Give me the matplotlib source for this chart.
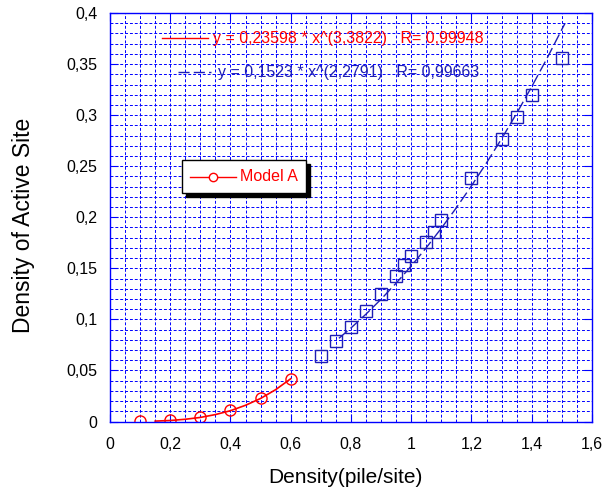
import matplotlib.pyplot as plt
from matplotlib.ticker import MultipleLocator, FuncFormatter
from matplotlib.patches import Rectangle
from matplotlib.lines import Line2D

plt.rcParams["font.family"] = ["Liberation Sans", "DejaVu Sans"]

# Model A points (red circles)
model_a_x = [0.1, 0.2, 0.3, 0.4, 0.5, 0.6]
model_a_y = [0.0001, 0.001, 0.004, 0.0108, 0.0235, 0.0415]

# fit curve for model A
fit_a_x = [0.15, 0.2, 0.25, 0.3, 0.35, 0.4, 0.45, 0.5, 0.55, 0.6]
fit_a_y = [0.0004, 0.0010, 0.0022, 0.0040, 0.0068, 0.0106, 0.0159, 0.0226, 0.0312, 0.0419]

# second series (blue squares)
model_b_x = [0.7, 0.75, 0.8, 0.85, 0.9, 0.95, 0.975, 1.0, 1.05, 1.075, 1.1,
             1.2, 1.3, 1.35, 1.4, 1.5]
model_b_y = [0.064, 0.079, 0.093, 0.108, 0.125, 0.142, 0.153, 0.162, 0.176, 0.186,
             0.197, 0.238, 0.277, 0.298, 0.320, 0.356]

# fit curve for the blue series
fit_b_x = [0.76, 0.8, 0.85, 0.9, 0.95, 1.0, 1.05, 1.1, 1.15, 1.2, 1.25, 1.3,
           1.35, 1.4, 1.45, 1.5, 1.51]
fit_b_y = [0.0815, 0.0916, 0.1052, 0.1198, 0.1355, 0.1523, 0.1702, 0.1893, 0.2094,
           0.2308, 0.2533, 0.2769, 0.3018, 0.3279, 0.3552, 0.3840, 0.3896]

eq_a = "y = 0,23598 * x^(3,3822)   R= 0,99948"
eq_b = "y = 0,1523 * x^(2,2791)   R= 0,99663"

red = "#ff0000"
blue = "#0000ff"
dark_blue = "#1e1eb4"

fig = plt.figure(figsize=(6.12, 4.93), dpi=100)
ax = fig.add_axes([0.1797, 0.145, 0.7876, 0.8286])

ax.set_xlim(0, 1.6)
ax.set_ylim(0, 0.4)
ax.xaxis.set_major_locator(MultipleLocator(0.2))
ax.xaxis.set_minor_locator(MultipleLocator(0.05))
ax.yaxis.set_major_locator(MultipleLocator(0.05))
ax.yaxis.set_minor_locator(MultipleLocator(0.01))

fmt = FuncFormatter(lambda v, p: ("%g" % round(v, 3)).replace(".", ","))
ax.xaxis.set_major_formatter(fmt)
ax.yaxis.set_major_formatter(fmt)

ax.grid(True, which="both", color=blue, linestyle=(0, (3, 2)), linewidth=0.7)
ax.set_axisbelow(True)
for s in ax.spines.values():
    s.set_color(blue)
    s.set_linewidth(1.0)
ax.tick_params(which="major", direction="in", length=6, color=blue,
               top=True, right=True, labelsize=11.5)
ax.tick_params(axis="x", which="major", pad=11)
ax.tick_params(axis="y", which="major", pad=9)
ax.tick_params(which="minor", length=0)

ax.plot(fit_a_x, fit_a_y, color=red, linewidth=1.2)
ax.plot(model_a_x, model_a_y, linestyle="none", marker="o", markersize=8,
        markerfacecolor="none", markeredgecolor=red, markeredgewidth=1)

ax.plot(fit_b_x, fit_b_y, color=dark_blue, linewidth=1.0, linestyle=(0, (8, 3)))
ax.plot(model_b_x, model_b_y, linestyle="none", marker="s", markersize=9,
        markerfacecolor="none", markeredgecolor=dark_blue, markeredgewidth=1)

ax.set_xlabel("Density(pile/site)", fontsize=15)
ax.set_ylabel("Density of Active Site", fontsize=16.5)
ax.xaxis.set_label_coords(0.4876, -0.115)
ax.yaxis.set_label_coords(-0.155, 0.481)

# equation texts with their line samples
fig.add_artist(Line2D([162 / 612, 208 / 612], [1 - 38 / 493] * 2, color=red, lw=1))
fig.text(213 / 612, 1 - 38 / 493, eq_a, color=red, fontsize=11.5, va="center")
fig.add_artist(Line2D([178 / 612, 211 / 612], [1 - 72 / 493] * 2, color=dark_blue,
                      lw=1, linestyle=(0, (8, 3))))
fig.text(218 / 612, 1 - 72 / 493, eq_b, color=dark_blue, fontsize=11.5, va="center")

# legend box with shadow
bx, by, bw, bh = 182 / 612, 1 - 193 / 493, 124 / 612, 33 / 493
fig.add_artist(Rectangle((bx + 4 / 612, by - 4 / 493), bw, bh, transform=fig.transFigure,
                         facecolor="black", edgecolor="black", zorder=5))
fig.add_artist(Rectangle((bx, by), bw, bh, transform=fig.transFigure,
                         facecolor="white", edgecolor="black", lw=1, zorder=6))
ly = by + bh / 2
fig.add_artist(Line2D([190 / 612, 236 / 612], [ly, ly], color=red, lw=1, zorder=7))
fig.add_artist(Line2D([213 / 612], [ly], color=red, marker="o", markersize=6,
                      markerfacecolor="white", markeredgecolor=red, zorder=8))
fig.text(240 / 612, ly, "Model A", color=red, fontsize=11.5, va="center", zorder=8)

fig.savefig("out.png", dpi=100)
